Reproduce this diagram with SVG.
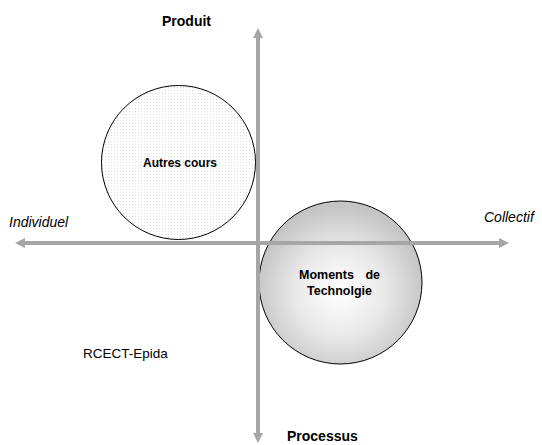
<svg xmlns="http://www.w3.org/2000/svg" width="542" height="445" viewBox="0 0 542 445">
  <style>
    .axis { stroke: #a6a6a6; stroke-width: 4; fill: none; }
    .bold { font-family: "Liberation Sans", Arial, sans-serif; font-weight: bold; fill: #000; }
    .ital { font-family: "Liberation Sans", Arial, sans-serif; font-style: italic; fill: #000; font-size: 14px; }
    .reg { font-family: "Liberation Sans", Arial, sans-serif; fill: #000; font-size: 13.5px; }
    .ring { stroke: #000; stroke-width: 1; }
  </style>
  <defs>
    <pattern id="dots" width="3" height="3" patternUnits="userSpaceOnUse">
      <rect width="3" height="3" fill="#ffffff"/>
      <rect width="1" height="1" fill="#dedede"/>
    </pattern>
    <radialGradient id="grad" cx="340" cy="292" r="86" gradientUnits="userSpaceOnUse">
      <stop offset="0" stop-color="#ffffff"/>
      <stop offset="0.5" stop-color="#eaeaea"/>
      <stop offset="1" stop-color="#c4c4c4"/>
    </radialGradient>
    <marker id="head" markerUnits="userSpaceOnUse" markerWidth="10" markerHeight="10" refX="0" refY="5" orient="auto-start-reverse">
      <path d="M0,0 L10,5 L0,10 z" fill="#a6a6a6"/>
    </marker>
  </defs>
  <rect width="542" height="445" fill="#ffffff"/>

  <g id="autres-cours">
    <circle class="ring" cx="178.5" cy="162.5" r="77" fill="url(#dots)"/>
    <text class="bold" x="180" y="167" font-size="12" text-anchor="middle">Autres cours</text>
  </g>

  <g id="moments-technologie">
    <circle class="ring" cx="340.5" cy="282.5" r="81.5" fill="url(#grad)"/>
  </g>

  <g id="connectors">
    <line class="axis" x1="258" y1="433" x2="258" y2="38" marker-start="url(#head)" marker-end="url(#head)"/>
    <line class="axis" x1="25" y1="243" x2="499" y2="243" marker-start="url(#head)" marker-end="url(#head)"/>
  </g>

  <g id="moments-label">
    <text class="bold" x="299" y="279" font-size="12.5">Moments</text>
    <text class="bold" x="380" y="279" font-size="12.5" text-anchor="end">de</text>
    <text class="bold" x="339.5" y="295" font-size="12.5" text-anchor="middle">Technolgie</text>
  </g>

  <g id="label-produit"><text class="bold" x="162" y="26" font-size="14">Produit</text></g>
  <g id="label-processus"><text class="bold" x="287" y="441" font-size="14">Processus</text></g>
  <g id="label-individuel"><text class="ital" x="9" y="227">Individuel</text></g>
  <g id="label-collectif"><text class="ital" x="484" y="222">Collectif</text></g>
  <g id="label-rcect"><text class="reg" x="83" y="358">RCECT-Epida</text></g>
</svg>
